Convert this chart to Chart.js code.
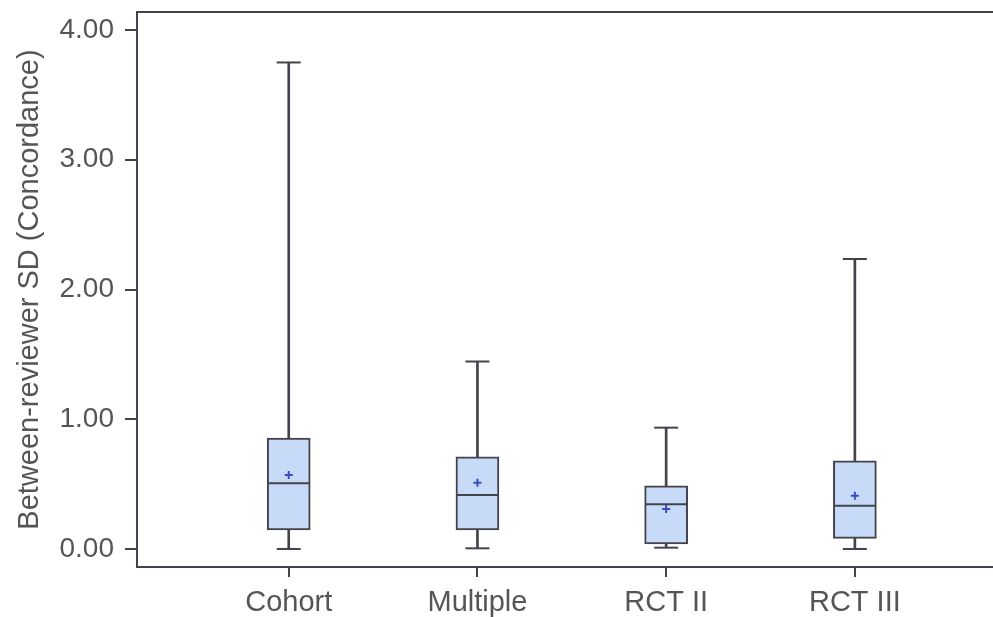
<!DOCTYPE html>
<html>
<head>
<meta charset="utf-8">
<script src="https://cdn.jsdelivr.net/npm/chart.js@4.4.0/dist/chart.umd.min.js"></script>
<style>
  html, body { margin: 0; padding: 0; background: #ffffff; }
  #wrap { width: 993px; height: 617px; }
</style>
</head>
<body>
<div id="wrap"><canvas id="c"></canvas></div>
<script>
// Five-number summaries and means per study design
const categories = ['Cohort', 'Multiple', 'RCT II', 'RCT III'];
const minVals    = [0.00, 0.005, 0.01, 0.00];
const q1Vals     = [0.146, 0.146, 0.039, 0.082];
const medianVals = [0.506, 0.416, 0.344, 0.334];
const q3Vals     = [0.855, 0.711, 0.486, 0.680];
const maxVals    = [3.75, 1.445, 0.935, 2.235];
const meanVals   = [0.57, 0.511, 0.308, 0.41];
const yTicks     = [0, 1, 2, 3, 4];

const positions = categories.map((_, i) => i + 1);
const ink = '#43434b';
const textColor = '#555558';
const fontFamily = '"Liberation Sans", Arial, Helvetica, sans-serif';

// Closes the frame along the top of the plot area and marks each category
// position below the category axis
const frameRules = {
  id: 'frameRules',
  afterDraw(chart) {
    const { ctx, chartArea } = chart;
    const xScale = chart.scales.x;
    ctx.save();
    ctx.strokeStyle = ink;
    ctx.lineWidth = 2;
    ctx.beginPath();
    ctx.moveTo(chartArea.left - 1, chartArea.top);
    ctx.lineTo(chartArea.right, chartArea.top);
    xScale.ticks.forEach((t) => {
      const px = Math.round(xScale.getPixelForValue(t.value));
      ctx.moveTo(px, chartArea.bottom);
      ctx.lineTo(px, chartArea.bottom + 10);
    });
    ctx.stroke();
    ctx.restore();
  }
};

new Chart(document.getElementById('c'), {
  type: 'bar',
  data: {
    datasets: [
      {
        label: 'upper whisker',
        data: positions.map((x, i) => ({ x, y: [q3Vals[i], maxVals[i]] })),
        backgroundColor: ink,
        borderWidth: 0,
        barThickness: 2,
        grouped: false,
        order: 6
      },
      {
        label: 'lower whisker',
        data: positions.map((x, i) => ({ x, y: [minVals[i], q1Vals[i]] })),
        backgroundColor: ink,
        borderWidth: 0,
        barThickness: 2,
        grouped: false,
        order: 5
      },
      {
        label: 'box',
        data: positions.map((x, i) => ({ x, y: [q1Vals[i], q3Vals[i]] })),
        backgroundColor: '#c7daf7',
        borderColor: ink,
        borderWidth: 2,
        borderSkipped: false,
        barThickness: 43,
        grouped: false,
        order: 4
      },
      {
        type: 'scatter',
        label: 'whisker caps',
        data: positions.flatMap((x, i) => [{ x, y: maxVals[i] }, { x, y: minVals[i] }]),
        pointStyle: 'line',
        pointRadius: 12,
        borderColor: ink,
        borderWidth: 2,
        order: 3
      },
      {
        type: 'scatter',
        label: 'median',
        data: positions.map((x, i) => ({ x, y: medianVals[i] })),
        pointStyle: 'line',
        pointRadius: 21,
        borderColor: ink,
        borderWidth: 2,
        order: 2
      },
      {
        type: 'scatter',
        label: 'mean',
        data: positions.map((x, i) => ({ x, y: meanVals[i] })),
        pointStyle: 'cross',
        pointRadius: 4,
        borderColor: '#3a4cc4',
        borderWidth: 2,
        order: 1
      }
    ]
  },
  options: {
    responsive: true,
    maintainAspectRatio: false,
    animation: false,
    events: [],
    layout: { autoPadding: false, padding: { top: 12, right: 0, bottom: 0, left: 0 } },
    plugins: {
      legend: { display: false },
      tooltip: { enabled: false }
    },
    scales: {
      x: {
        type: 'linear',
        offset: false,
        min: 0.196,
        max: 4.732,
        afterBuildTicks: (s) => { s.ticks = positions.map(v => ({ value: v })); },
        afterFit: (s) => {
          s.height = 50;
          s.paddingLeft = 0;
          s.paddingRight = 0;
        },
        ticks: {
          callback: (v) => categories[v - 1] ?? '',
          font: { family: fontFamily, size: 29 },
          color: textColor,
          padding: 9,
          maxRotation: 0,
          autoSkip: false
        },
        grid: { offset: false, drawOnChartArea: false, drawTicks: true, tickLength: 10, lineWidth: 2, color: ink },
        border: { display: true, color: ink, width: 2 }
      },
      y: {
        type: 'linear',
        min: -0.139,
        max: 4.139,
        afterBuildTicks: (s) => { s.ticks = yTicks.map(v => ({ value: v })); },
        afterFit: (s) => {
          s.width = 137;
          s.paddingTop = 0;
          s.paddingBottom = 0;
        },
        ticks: {
          callback: (v) => Number(v).toFixed(2),
          font: { family: fontFamily, size: 28 },
          color: textColor,
          padding: 11
        },
        grid: { drawOnChartArea: false, drawTicks: true, tickLength: 12, lineWidth: 2, color: ink },
        border: { display: true, color: ink, width: 2 },
        title: {
          display: true,
          text: 'Between-reviewer SD (Concordance)',
          font: { family: fontFamily, size: 29 },
          color: textColor,
          padding: { top: 13, bottom: 0 }
        }
      }
    }
  },
  plugins: [frameRules]
});
</script>
</body>
</html>
